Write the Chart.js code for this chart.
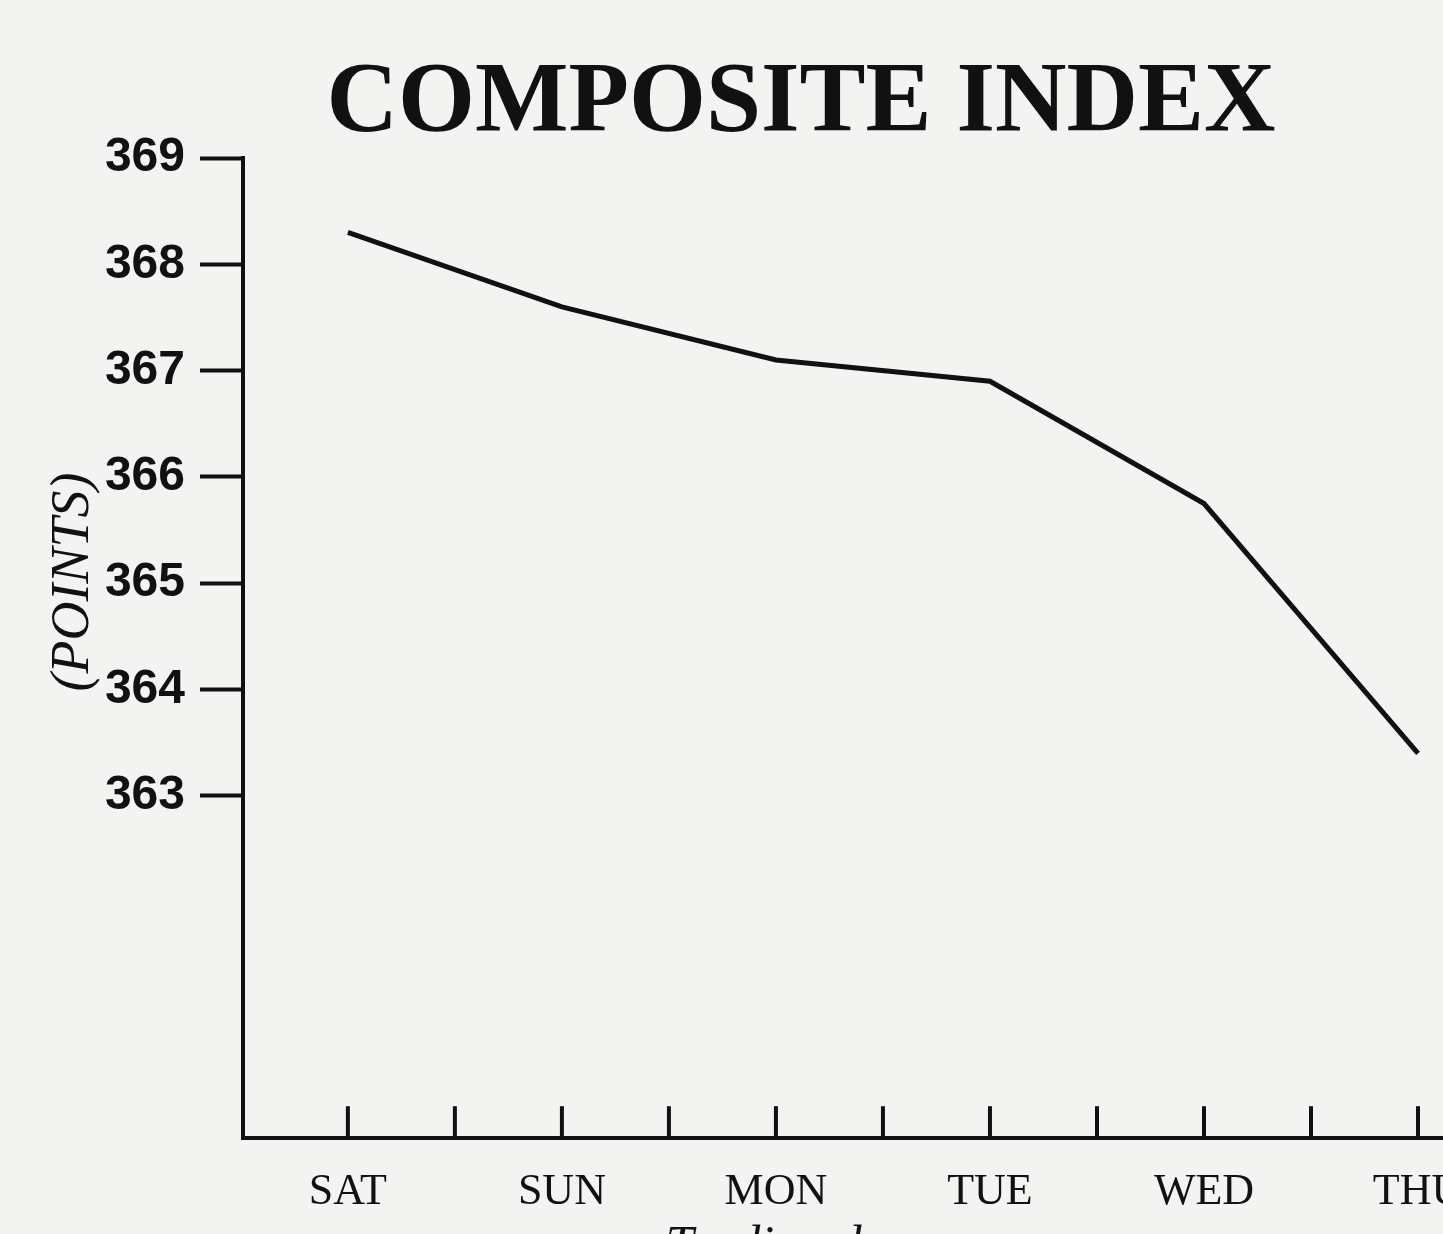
<!DOCTYPE html>
<html>
<head>
<meta charset="utf-8">
<script src="https://cdn.jsdelivr.net/npm/chart.js@4/dist/chart.umd.min.js"></script>
<style>
    html, body { margin: 0; padding: 0; overflow: hidden; background: #f3f3f1; }
    canvas { display: block; }
</style>
</head>
<body>
<canvas id="grafico" width="1500" height="1263"></canvas>
<script>
// ---------------------
// Dados
// ---------------------
const dias = ['SAT', 'SUN', 'MON', 'TUE', 'WED', 'THU'];
const pontos = [368.3, 367.6, 367.1, 366.9, 365.75, 363.4];
const ticksY = [363, 364, 365, 366, 367, 368, 369];

const titulo = 'COMPOSITE INDEX';
const tituloY = '(POINTS)';
const tituloX = 'Trading days';

// ---------------------
// Plugin: textos e marcas internas do eixo X
// ---------------------
const extras = {
    id: 'extras',
    beforeDraw(chart) {
        const ctx = chart.ctx;
        ctx.save();
        ctx.fillStyle = '#f3f3f1';
        ctx.fillRect(0, 0, chart.width, chart.height);
        ctx.restore();
    },
    afterDraw(chart) {
        const ctx = chart.ctx;
        const x = chart.scales.x;
        const area = chart.chartArea;

        // marcas do eixo X viradas para dentro
        ctx.save();
        ctx.strokeStyle = '#111';
        ctx.lineWidth = 4;
        x.ticks.forEach(t => {
            const px = x.getPixelForValue(t.value);
            ctx.beginPath();
            ctx.moveTo(px, area.bottom);
            ctx.lineTo(px, area.bottom - 32);
            ctx.stroke();
        });
        ctx.restore();

        // títulos
        ctx.save();
        ctx.fillStyle = '#111';
        ctx.textAlign = 'center';
        ctx.textBaseline = 'alphabetic';
        ctx.font = 'bold 99px "Liberation Serif"';
        ctx.fillText(titulo, 801, 130);

        ctx.font = 'italic 50px "Liberation Serif"';
        ctx.fillText(tituloX, 797, 1260);

        ctx.translate(88, 582);
        ctx.rotate(-Math.PI / 2);
        ctx.font = 'italic 54px "Liberation Serif"';
        ctx.fillText(tituloY, 0, 0);
        ctx.restore();
    }
};

// ---------------------
// Gráfico
// ---------------------
const ctx = document.getElementById('grafico').getContext('2d');

new Chart(ctx, {
    type: 'line',
    data: {
        datasets: [{
            data: dias.map((d, i) => ({ x: i, y: pontos[i] })),
            borderColor: '#111',
            borderWidth: 5,
            pointRadius: 0,
            tension: 0,
            fill: false
        }]
    },
    options: {
        responsive: false,
        animation: false,
        layout: { padding: { top: 158, right: 0, bottom: 16, left: 0 } },
        plugins: {
            legend: { display: false },
            title: { display: false },
            tooltip: { enabled: false }
        },
        scales: {
            x: {
                type: 'linear',
                min: -0.49,
                max: 5.383,
                afterBuildTicks: (scale) => {
                    const t = [];
                    for (let v = 0; v <= dias.length - 1; v += 0.5) t.push({ value: v });
                    scale.ticks = t;
                },
                grid: { display: true, drawOnChartArea: false, drawTicks: false },
                border: { display: true, color: '#111', width: 4 },
                ticks: {
                    padding: 28,
                    color: '#111',
                    font: { family: '"Liberation Serif"', size: 44 },
                    maxRotation: 0,
                    autoSkip: false,
                    callback: (v) => Number.isInteger(v) ? dias[v] : ''
                }
            },
            y: {
                min: 359.78,
                max: 369,
                afterBuildTicks: (scale) => {
                    scale.ticks = ticksY.map(v => ({ value: v }));
                },
                afterFit: (scale) => { scale.width = 243; },
                grid: {
                    drawOnChartArea: false,
                    drawTicks: true,
                    tickLength: 43,
                    tickWidth: 4,
                    tickColor: '#111'
                },
                border: { display: true, color: '#111', width: 4 },
                ticks: {
                    padding: 15,
                    color: '#111',
                    font: { family: '"Liberation Sans"', size: 48, weight: 'bold' }
                }
            }
        }
    },
    plugins: [extras]
});
</script>
</body>
</html>
